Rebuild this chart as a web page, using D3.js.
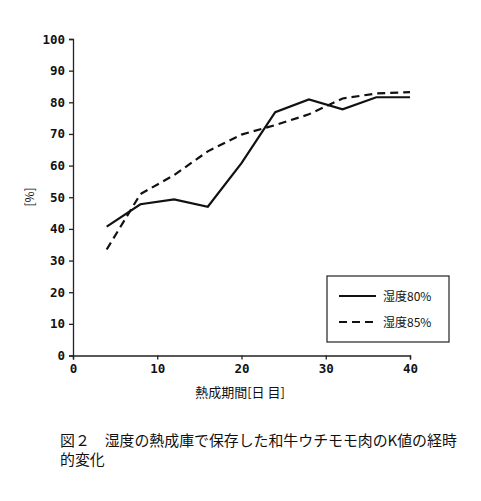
<!DOCTYPE html>
<html>
<head>
<meta charset="utf-8">
<script src="https://cdn.jsdelivr.net/npm/d3@7"></script>
<style>
body { margin: 0; background: #fff; }
svg text { fill: #111; }
.tick text { font-family: "DejaVu Sans Mono", monospace; font-size: 12.5px; font-weight: bold; }
.jp { font-family: "Noto Sans CJK JP", sans-serif; }
</style>
</head>
<body>
<svg id="myGraph" width="481" height="501"></svg>
<script>
// データ
var days = [4, 8, 12, 16, 20, 24, 28, 32, 36, 40];
var humid80 = [40.7, 47.8, 49.3, 47.0, 60.8, 76.9, 80.9, 77.8, 81.6, 81.6];
var humid85 = [33.5, 51.0, 57.0, 64.5, 69.8, 72.8, 76.2, 81.2, 82.8, 83.2];
var seriesNames = ["湿度80%", "湿度85%"];
var xTicks = [0, 10, 20, 30, 40];
var yTicks = [0, 10, 20, 30, 40, 50, 60, 70, 80, 90, 100];

var svg = d3.select("#myGraph");
var plotLeft = 73, plotRight = 410, plotTop = 39, plotBottom = 355.5;

var xScale = d3.scaleLinear().domain([0, 40]).range([plotLeft, plotRight]);
var yScale = d3.scaleLinear().domain([0, 100]).range([plotBottom, plotTop]);

// 軸
svg.append("g")
	.attr("transform", "translate(" + plotLeft + ",0)")
	.call(d3.axisLeft(yScale).tickValues(yTicks).tickSize(4).tickPadding(4))
	.call(function(g){ g.selectAll("path,line").attr("stroke", "#222").attr("stroke-width", 1.3); });

svg.append("g")
	.attr("transform", "translate(0," + plotBottom + ")")
	.call(d3.axisBottom(xScale).tickValues(xTicks).tickSize(4).tickPadding(5))
	.call(function(g){ g.selectAll("path,line").attr("stroke", "#222").attr("stroke-width", 1.3); });

var line = d3.line()
	.x(function(d, i){ return xScale(days[i]); })
	.y(function(d){ return yScale(d); });

svg.append("path")
	.attr("d", line(humid80))
	.attr("fill", "none")
	.attr("stroke", "#111")
	.attr("stroke-width", 2.2);

svg.append("path")
	.attr("d", line(humid85))
	.attr("fill", "none")
	.attr("stroke", "#111")
	.attr("stroke-width", 2.2)
	.attr("stroke-dasharray", "8,5");

// 軸タイトル
svg.append("text")
	.attr("class", "jp")
	.attr("x", 240).attr("y", 397)
	.attr("text-anchor", "middle")
	.attr("font-size", 13)
	.text("熱成期間[日 目]");

svg.append("text")
	.attr("class", "jp")
	.attr("transform", "translate(34,197) rotate(-90)")
	.attr("text-anchor", "middle")
	.attr("font-size", 12)
	.text("[%]");

// 凡例
var lg = svg.append("g");
lg.append("rect")
	.attr("x", 327).attr("y", 276).attr("width", 122).attr("height", 66)
	.attr("fill", "#fff").attr("stroke", "#222").attr("stroke-width", 1.2);
seriesNames.forEach(function(name, i){
	var y = 296 + i * 26;
	lg.append("line")
		.attr("x1", 339).attr("x2", 376).attr("y1", y).attr("y2", y)
		.attr("stroke", "#111").attr("stroke-width", 2.2)
		.attr("stroke-dasharray", i == 1 ? "8,5" : null);
	lg.append("text")
		.attr("class", "jp")
		.attr("x", 383).attr("y", y + 4.5)
		.attr("font-size", 12)
		.text(name);
});

// キャプション
svg.append("text")
	.attr("class", "jp")
	.attr("x", 60).attr("y", 446)
	.attr("font-size", 14.9)
	.text("図２　湿度の熱成庫で保存した和牛ウチモモ肉のK値の経時");
svg.append("text")
	.attr("class", "jp")
	.attr("x", 60).attr("y", 465)
	.attr("font-size", 14.9)
	.text("的変化");
</script>
</body>
</html>
